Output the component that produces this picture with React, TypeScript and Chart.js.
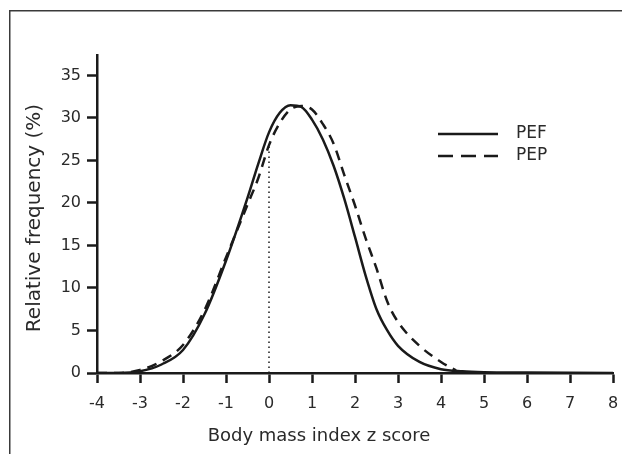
import React, { useEffect, useRef } from 'react';
import { Chart, registerables } from 'chart.js';

Chart.register(...registerables);

// ---- data ----
const PEF_X = [-4, -3.5, -3, -2.5, -2, -1.5, -1, -0.5, -0.25, 0, 0.25, 0.5, 0.75, 1, 1.25, 1.5, 1.75, 2, 2.25, 2.5, 2.75, 3, 3.5, 4, 4.5, 5, 6, 7, 8];
const PEF_Y = [0, 0, 0.2, 1.0, 2.7, 6.9, 13.2, 20.6, 24.6, 28.3, 30.6, 31.5, 31.3, 29.8, 27.5, 24.4, 20.5, 16.0, 11.4, 7.5, 5.0, 3.2, 1.3, 0.45, 0.2, 0.1, 0.05, 0.02, 0];

const PEP_X = [-4, -3.5, -3, -2.5, -2, -1.5, -1, -0.5, -0.25, 0, 0.25, 0.5, 0.75, 1, 1.25, 1.5, 1.75, 2, 2.25, 2.5, 2.75, 3, 3.5, 4, 4.35];
const PEP_Y = [0, 0, 0.35, 1.4, 3.3, 7.4, 13.6, 19.8, 22.9, 26.8, 29.4, 31.0, 31.4, 31.0, 29.3, 27.0, 23.3, 19.7, 15.8, 12.3, 8.4, 6.0, 3.2, 1.3, 0.3];

const X_TICKS = [-4, -3, -2, -1, 0, 1, 2, 3, 4, 5, 6, 7, 8];
const Y_TICKS = [0, 5, 10, 15, 20, 25, 30, 35];
const X_MIN = -4;
const X_MAX = 8;
const Y_MIN = 0;
const Y_MAX = 37.4;

const SERIES_NAMES = ['PEF', 'PEP'];
const X_TITLE = 'Body mass index z score';
const Y_TITLE = 'Relative frequency (%)';

const INK = '#1a1a1a';
const TEXT = '#2a2a2a';
const FONT = "'DejaVu Sans', sans-serif";

const pts = (xs: number[], ys: number[]) => xs.map((x, i) => ({ x, y: ys[i] }));

const decorPlugin = {
  id: 'decor',
  beforeDraw(chart: any) {
    const ctx = chart.ctx;
    ctx.save();
    ctx.strokeStyle = '#3a3a3a';
    ctx.lineWidth = 1.5;
    ctx.beginPath();
    ctx.moveTo(9.75, chart.height);
    ctx.lineTo(9.75, 10.75);
    ctx.lineTo(chart.width, 10.75);
    ctx.stroke();
    ctx.restore();
  },
  afterDraw(chart: any) {
    const ctx = chart.ctx;
    ctx.save();
    // legend
    const ds = chart.data.datasets;
    const rows = [134, 156];
    [0, 1].forEach((i) => {
      const y = rows[i];
      ctx.strokeStyle = ds[i].borderColor;
      ctx.lineWidth = 2.5;
      ctx.setLineDash(i === 1 ? [15, 8] : []);
      ctx.beginPath();
      ctx.moveTo(438, y);
      ctx.lineTo(498, y);
      ctx.stroke();
      ctx.setLineDash([]);
      ctx.fillStyle = TEXT;
      ctx.font = `17px ${FONT}`;
      ctx.textAlign = 'left';
      ctx.textBaseline = 'middle';
      ctx.fillText(ds[i].label, 516, y);
    });
    // x title
    ctx.fillStyle = TEXT;
    ctx.font = `18px ${FONT}`;
    ctx.textAlign = 'center';
    ctx.textBaseline = 'middle';
    ctx.fillText(X_TITLE, 319, 436);
    // y title
    ctx.translate(35, 218);
    ctx.rotate(-Math.PI / 2);
    ctx.font = `20px ${FONT}`;
    ctx.fillText(Y_TITLE, 0, 0);
    ctx.restore();
  },
};

export default function App() {
  const ref = useRef<HTMLCanvasElement | null>(null);
  useEffect(() => {
    if (!ref.current) return;
    const pepAtZero = PEP_Y[PEP_X.indexOf(0)];
    const chart = new Chart(ref.current, {
      type: 'line',
      data: {
        datasets: [
          {
            label: SERIES_NAMES[0],
            data: pts(PEF_X, PEF_Y),
            borderColor: INK,
            borderWidth: 2.5,
            pointRadius: 0,
            fill: false,
            cubicInterpolationMode: 'monotone',
          },
          {
            label: SERIES_NAMES[1],
            data: pts(PEP_X, PEP_Y),
            borderColor: INK,
            borderWidth: 2.5,
            borderDash: [10, 7],
            pointRadius: 0,
            fill: false,
            cubicInterpolationMode: 'monotone',
          },
          {
            label: 'zero',
            data: [{ x: 0, y: 0 }, { x: 0, y: pepAtZero }],
            borderColor: INK,
            borderWidth: 1.5,
            borderDash: [1.5, 3.5],
            pointRadius: 0,
            fill: false,
          },
        ],
      },
      options: {
        animation: false,
        responsive: false,
        maintainAspectRatio: false,
        layout: { padding: { top: 55, right: 9, left: 0, bottom: 0 } },
        plugins: { legend: { display: false }, tooltip: { enabled: false }, title: { display: false } },
        scales: {
          x: {
            type: 'linear',
            min: X_MIN,
            max: X_MAX,
            afterBuildTicks: (s: any) => {
              s.ticks = X_TICKS.map((v) => ({ value: v }));
            },
            afterFit: (s: any) => {
              s.height = 81;
              s.paddingLeft = 0;
              s.paddingRight = 0;
            },
            ticks: {
              color: TEXT,
              font: { family: FONT, size: 16 },
              padding: 11,
              maxRotation: 0,
              autoSkip: false,
            },
            grid: {
              drawOnChartArea: false,
              drawTicks: true,
              tickLength: 10,
              tickWidth: 2.5,
              tickColor: INK,
            },
            border: { display: true, color: INK, width: 2.5 },
          },
          y: {
            type: 'linear',
            min: Y_MIN,
            max: Y_MAX,
            afterBuildTicks: (s: any) => {
              s.ticks = Y_TICKS.map((v) => ({ value: v }));
            },
            afterFit: (s: any) => {
              s.width = 97;
            },
            ticks: {
              color: TEXT,
              font: { family: FONT, size: 16 },
              padding: 6,
              autoSkip: false,
            },
            grid: {
              drawOnChartArea: false,
              drawTicks: true,
              tickLength: 10,
              tickWidth: 2.5,
              tickColor: INK,
            },
            border: { display: true, color: INK, width: 2.5 },
          },
        },
      },
      plugins: [decorPlugin],
    } as any);
    return () => chart.destroy();
  }, []);

  return (
    <div style={{ position: 'absolute', left: 0, top: 0, width: 622, height: 454, background: '#fff' }}>
      <canvas ref={ref} width={622} height={454} style={{ width: 622, height: 454, display: 'block' }} />
    </div>
  );
}
